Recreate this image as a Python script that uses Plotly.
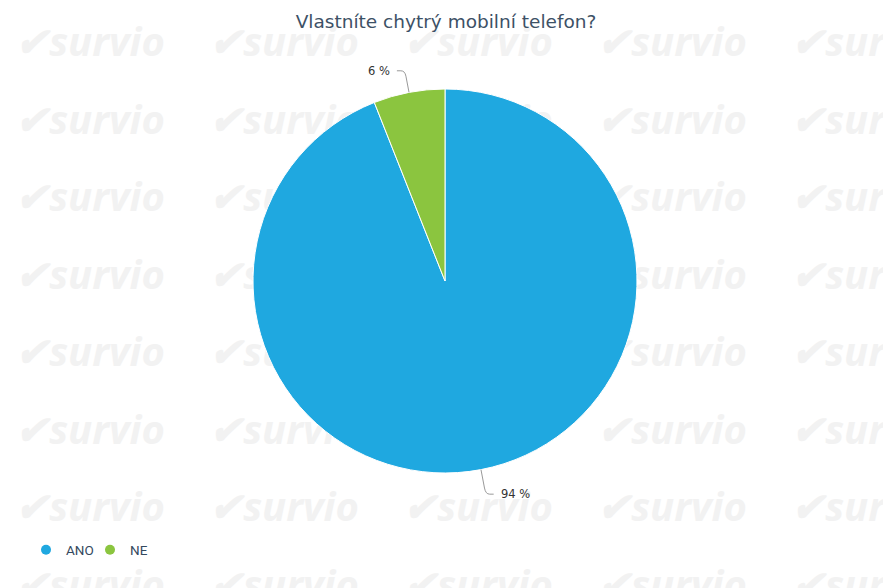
import math
import plotly.graph_objects as go

W, H = 883, 588
title = "Vlastníte chytrý mobilní telefon?"
labels = ["ANO", "NE"]
values = [94, 6]
colors = ["#1fa8e0", "#8bc53f"]

# pie geometry (pixels)
cx, cy, r = 445, 281, 192

fig = go.Figure()

# watermark background (decorative tiling)
wx, wy, wt = [], [], []
for row in range(8):
    for col in range(5):
        wx.append(90 + col * 194)
        wy.append(46 + row * 77.5)
        wt.append("<b><i>✔survio</i></b>")
fig.add_trace(go.Scatter(x=wx, y=wy, text=wt, mode="text", textposition="middle center",
                         textfont=dict(size=40, color="#f2f2f2", family="Open Sans"),
                         hoverinfo="skip", showlegend=False))

# legend proxies
for lab, col in zip(labels, colors):
    fig.add_trace(go.Scatter(x=[None], y=[None], mode="markers", name=lab,
                             marker=dict(symbol="circle", size=10, color=col)))

fig.add_trace(go.Pie(labels=labels, values=values, sort=False, direction="clockwise",
                     rotation=0, textinfo="none", showlegend=False,
                     marker=dict(colors=colors, line=dict(color="white", width=1)),
                     domain=dict(x=[(cx - r) / W, (cx + r) / W],
                                 y=[1 - (cy + r) / H, 1 - (cy - r) / H])))

# labels with connectors computed from data
total = sum(values)
cum = 0
shapes, annots = [], []
for lab, v in zip(labels, values):
    mid = (cum + v / 2) / total * 2 * math.pi
    cum += v
    s, c = math.sin(mid), math.cos(mid)
    ext = 22 if c > 0 else 25
    x0, y0 = cx + r * s, cy - r * c
    x1, y1 = cx + (r + ext) * s, cy - (r + ext) * c
    side = 1 if s >= 0 else -1
    x2 = x1 + side * 8
    xb, yb = x1 - (x1 - x0) * 0.25, y1 - (y1 - y0) * 0.25
    shapes.append(dict(type="path", xref="x", yref="y",
                       path=f"M {x0},{y0} L {xb},{yb} Q {x1},{y1} {x1 + side*4},{y1} L {x2},{y1}",
                       line=dict(color="#999999", width=1)))
    annots.append(dict(x=x2 + side * 5, y=y1, xref="x", yref="y", text=f"{v} %",
                       showarrow=False, xanchor="left" if side > 0 else "right",
                       yanchor="middle", font=dict(size=11.5, color="#333333")))

fig.update_layout(
    width=W, height=H, margin=dict(l=0, r=0, t=0, b=0),
    paper_bgcolor="white", plot_bgcolor="white",
    font=dict(family="DejaVu Sans"),
    xaxis=dict(range=[0, W], visible=False, domain=[0, 1], fixedrange=True),
    yaxis=dict(range=[H, 0], visible=False, domain=[0, 1], fixedrange=True),
    title=dict(text=title, x=(cx + 1) / W, xanchor="center", y=1 - 22 / H, yanchor="middle",
               font=dict(size=18.5, color="#3d5166", family="DejaVu Sans")),
    legend=dict(orientation="h", x=26 / W, xanchor="left", y=1 - 550 / H, yanchor="middle",
                font=dict(size=13.5, color="#34495e", family="Roboto"),
                entrywidth=19, entrywidthmode="pixels", bgcolor="rgba(0,0,0,0)"),
    shapes=shapes, annotations=annots,
)

fig.write_html("out.html")
